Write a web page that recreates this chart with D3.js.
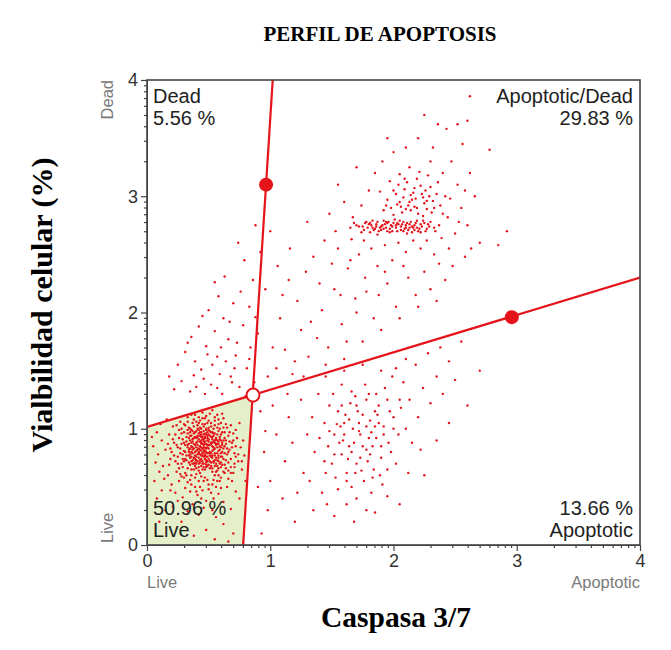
<!DOCTYPE html>
<html>
<head>
<meta charset="utf-8">
<script src="https://cdn.jsdelivr.net/npm/d3@7"></script>
<style>
  body { margin: 0; background: #fff; }
  svg { display: block; }
</style>
</head>
<body>
<div id="chart"></div>
<script>
// Axis ticks
const majorTicks = [0, 1, 2, 3, 4];
const minorTicks = [0, 1, 2, 3].flatMap(d => [2, 3, 4, 5, 6, 7, 8, 9].map(k => d + Math.log10(k)));

// Gate geometry (data units)
const verticalGate = [[0.78, 0], [1.02, 4]];
const horizontalGate = [[0, 1.015], [4, 2.30]];
const liveRegion = [[0, 0], [0, 1.015], [0.86, 1.29], [0.78, 0]];
const handles = [[0.966, 3.10], [2.96, 1.96]];
const centerHandle = [0.86, 1.29];

// Quadrant labels
const quadrantLabels = [
  { lines: ['Dead', '5.56 %'], corner: 'tl' },
  { lines: ['Apoptotic/Dead', '29.83 %'], corner: 'tr' },
  { lines: ['50.96 %', 'Live'], corner: 'bl' },
  { lines: ['13.66 %', 'Apoptotic'], corner: 'br' }
];

// Events: live population
const livePoints = [
[0.41,0.93],[0.52,0.88],[0.37,0.79],[0.48,0.71],[0.55,0.96],[0.33,0.86],[0.46,1.02],[0.59,0.82],[0.29,0.91],[0.44,0.77],
[0.50,0.99],[0.39,0.68],[0.62,0.90],[0.35,0.97],[0.47,0.84],[0.56,0.75],[0.31,0.74],[0.43,1.07],[0.53,0.63],[0.40,0.88],
[0.65,0.78],[0.27,0.83],[0.49,0.92],[0.58,1.04],[0.36,0.72],[0.45,0.65],[0.61,0.69],[0.34,1.01],[0.51,0.80],[0.42,0.96],
[0.57,0.87],[0.30,0.97],[0.48,1.11],[0.38,0.83],[0.54,0.71],[0.44,0.90],[0.66,0.94],[0.25,0.76],[0.40,0.61],[0.52,1.05],
[0.47,0.78],[0.63,0.85],[0.32,0.89],[0.56,0.92],[0.43,0.73],[0.37,1.05],[0.60,0.76],[0.49,0.86],[0.28,0.70],[0.53,0.97],
[0.41,0.82],[0.46,0.95],[0.69,0.88],[0.35,0.78],[0.58,0.66],[0.44,1.00],[0.50,0.74],[0.39,0.93],[0.55,0.83],[0.33,0.66],
[0.47,0.89],[0.62,1.01],[0.42,0.70],[0.36,0.85],[0.57,0.79],[0.45,0.87],[0.52,0.93],[0.30,0.81],[0.40,0.98],[0.64,0.73],
[0.48,0.67],[0.54,0.89],[0.38,0.75],[0.43,0.94],[0.59,0.91],[0.26,0.92],[0.50,0.83],[0.45,1.09],[0.67,0.82],[0.34,0.71],
[0.41,0.86],[0.56,0.70],[0.49,0.97],[0.37,0.91],[0.61,0.80],[0.44,0.81],[0.53,0.77],[0.31,1.03],[0.47,0.74],[0.58,0.98],
[0.39,0.80],[0.46,0.91],[0.55,1.07],[0.42,0.64],[0.64,0.87],[0.35,0.94],[0.51,0.86],[0.28,0.87],[0.48,0.80],[0.57,0.84],
[0.43,0.85],[0.49,0.90],[0.40,0.76],[0.53,0.81],[0.46,0.98],[0.36,0.88],[0.58,0.89],[0.44,0.68],[0.51,0.94],[0.38,0.96],
[0.55,0.73],[0.42,0.91],[0.47,0.81],[0.34,0.82],[0.60,0.95],[0.49,0.72],[0.41,1.03],[0.57,0.68],[0.32,0.93],[0.45,0.79],
[0.52,0.87],[0.39,0.71],[0.61,0.86],[0.44,0.93],[0.36,0.76],[0.54,1.00],[0.48,0.95],[0.42,0.79],[0.58,0.77],[0.35,1.00],
[0.50,0.69],[0.46,0.86],[0.63,0.92],[0.40,0.84],[0.53,0.66],[0.29,0.78],[0.47,1.04],[0.56,0.86],[0.43,0.62],[0.37,0.82],
[0.51,0.77],[0.59,1.00],[0.45,0.72],[0.33,0.96],[0.49,0.84],[0.62,0.74],[0.41,0.89],[0.54,0.94],[0.38,0.65],[0.46,0.76],
[0.57,0.95],[0.31,0.86],[0.44,0.97],[0.52,0.71],[0.40,1.06],[0.65,0.83],[0.48,0.87],[0.35,0.69],[0.55,0.79],[0.42,0.99],
[0.60,0.71],[0.47,0.65],[0.37,0.89],[0.50,1.01],[0.43,0.82],[0.56,0.63],[0.34,0.77],[0.53,0.91],[0.45,0.93],[0.39,0.74],
[0.61,0.97],[0.48,0.76],[0.30,0.72],[0.57,0.90],[0.44,0.87],[0.51,0.66],[0.36,0.99],[0.46,0.70],[0.59,0.85],[0.41,0.78],
[0.54,0.84],[0.38,0.92],[0.49,0.79],[0.63,0.79],[0.43,1.01],[0.52,0.97],[0.35,0.83],[0.47,0.93],[0.58,0.72],[0.40,0.70],
[0.45,0.83],[0.55,0.88],[0.32,0.77],[0.50,0.89],[0.42,0.67],[0.60,0.90],[0.37,0.73],[0.48,1.00],[0.53,0.75],[0.46,0.80],
[0.44,0.84],[0.50,0.91],[0.38,0.87],[0.55,0.77],[0.42,0.75],[0.47,0.96],[0.36,0.80],[0.53,0.85],[0.40,0.92],[0.58,0.81],
[0.45,0.70],[0.49,1.05],[0.33,0.84],[0.61,0.88],[0.43,0.78],[0.52,0.68],[0.39,0.97],[0.56,0.91],[0.46,0.82],[0.34,0.92],
[0.48,0.73],[0.60,0.79],[0.41,1.00],[0.54,0.96],[0.37,0.70],[0.50,0.79],[0.44,0.95],[0.57,0.73],[0.31,0.80],[0.47,0.87],
[0.62,0.83],[0.40,0.66],[0.52,1.02],[0.35,0.90],[0.55,0.68],[0.43,0.89],[0.49,0.76],[0.38,1.02],[0.59,0.93],[0.46,0.67],
[0.32,0.73],[0.53,0.88],[0.42,0.83],[0.64,0.90],[0.48,0.99],[0.36,0.94],[0.51,0.72],[0.45,0.77],[0.57,1.01],[0.39,0.77],
[0.47,0.92],[0.60,0.67],[0.34,0.87],[0.50,0.95],[0.43,0.71],[0.55,0.90],[0.41,0.94],[0.58,0.75],[0.37,0.84],[0.52,0.79],
[0.45,1.04],[0.66,0.80],[0.40,0.81],[0.49,0.68],[0.33,0.99],[0.54,0.82],[0.46,0.89],[0.61,0.76],[0.38,0.70],[0.51,0.98],
[0.44,0.74],[0.56,0.87],[0.35,0.75],[0.48,0.83],[0.42,1.05],[0.59,0.70],[0.47,0.77],[0.30,0.88],[0.53,0.93],[0.40,0.73],
[0.63,0.97],[0.45,0.91],[0.36,0.65],[0.50,0.86],[0.57,0.64],[0.43,0.97],[0.39,0.86],[0.55,1.03],[0.48,0.69],[0.34,0.80],
[0.52,0.76],[0.46,0.84],[0.60,0.84],[0.41,0.72],[0.37,0.98],[0.54,0.72],[0.44,0.88],[0.49,0.94],[0.58,0.87],[0.42,0.80],
[0.27,0.79],[0.68,0.74],[0.24,0.86],[0.70,0.90],[0.29,0.67],[0.66,0.64],[0.23,0.95],[0.72,0.85],[0.31,0.62],[0.62,0.63],
[0.20,0.80],[0.74,0.78],[0.26,0.99],[0.67,0.97],[0.28,0.59],[0.58,0.60],[0.35,0.56],[0.49,0.56],[0.44,0.59],[0.54,0.56],
[0.38,1.08],[0.47,1.09],[0.55,1.10],[0.60,1.05],[0.30,1.04],[0.25,0.70],[0.18,0.69],[0.71,0.70],[0.17,0.87],[0.77,0.72],
[0.22,0.77],[0.26,0.66],[0.24,1.03],[0.21,0.91],[0.27,0.61],[0.23,0.72],[0.28,0.96],[0.25,0.84],[0.19,0.83],[0.29,0.74],
[0.66,0.71],[0.69,0.84],[0.64,0.66],[0.70,0.96],[0.67,0.89],[0.72,0.76],[0.65,1.01],[0.68,0.62],[0.63,0.69],[0.71,0.67],
[0.32,0.60],[0.39,0.58],[0.46,0.55],[0.53,0.52],[0.59,0.55],[0.36,0.52],[0.43,0.50],[0.50,0.48],[0.56,0.50],[0.40,0.46],
[0.33,1.06],[0.42,1.10],[0.50,1.07],[0.58,1.08],[0.64,1.04],[0.28,1.00],[0.36,1.12],[0.45,1.14],[0.53,1.16],[0.61,1.13],
[0.22,0.88],[0.71,0.79],[0.19,0.74],[0.73,0.92],[0.24,0.63],[0.68,0.67],[0.15,0.82],[0.76,0.84],[0.30,0.58],[0.60,0.58],
[0.42,0.55],[0.50,0.52],[0.36,0.60],[0.55,0.60],[0.47,0.58],[0.33,0.54],[0.63,0.62],[0.39,0.50],[0.45,0.47],[0.52,0.45],
[0.57,0.55],[0.41,0.43],[0.48,0.38],[0.35,0.46],[0.60,0.49],[0.26,0.55],[0.18,0.95],[0.21,1.02],[0.27,1.06],[0.33,1.10],
[0.39,1.12],[0.51,1.13],[0.57,1.12],[0.62,1.09],[0.68,1.03],[0.72,0.99],[0.74,0.72],[0.70,0.62],[0.66,0.57],[0.12,0.90],
[0.09,0.78],[0.13,0.68],[0.17,0.60],[0.20,0.52],[0.23,0.45],[0.29,0.41],[0.31,0.49],[0.44,0.40],[0.54,0.40],[0.58,0.44],
[0.65,0.50],[0.69,0.55],[0.77,0.65],[0.79,0.77],[0.78,0.90],[0.75,1.05],[0.08,0.97],[0.05,0.85],[0.11,1.04],[0.16,1.08],
[0.14,0.57],[0.10,0.63],[0.07,0.71],[0.19,0.47],[0.25,0.38],[0.37,0.35],[0.46,0.32],[0.53,0.30],[0.62,0.37],[0.72,0.46],
[0.06,0.55],[0.12,0.47],[0.21,0.33],[0.33,0.29],[0.42,0.26],[0.56,0.24],[0.68,0.31],[0.75,0.40],[0.80,0.55],[0.04,0.93],
[0.15,0.30],[0.28,0.20],[0.48,0.13],[0.62,0.18],[0.70,0.10],[0.38,0.08],[0.55,0.05],[0.08,0.40],[0.10,0.20],[0.66,0.03]
];

// Events: dead quadrant
const deadPoints = [
[0.35,1.32],[0.52,1.38],[0.68,1.45],[0.44,1.51],[0.61,1.30],[0.28,1.41],[0.75,1.36],[0.57,1.62],[0.39,1.58],[0.81,1.52],
[0.48,1.71],[0.66,1.77],[0.31,1.66],[0.72,1.63],[0.55,1.84],[0.84,1.70],[0.42,1.88],[0.62,1.95],[0.78,1.89],[0.36,1.79],
[0.50,2.02],[0.70,2.08],[0.88,1.96],[0.25,1.55],[0.59,1.47],[0.46,1.43],[0.80,1.28],[0.64,1.58],[0.38,1.46],[0.73,1.74],
[0.53,1.55],[0.87,1.40],[0.67,1.92],[0.45,1.97],[0.58,2.14],[0.76,2.18],[0.83,2.05],[0.22,1.34],[0.33,1.74],[0.49,1.64],
[0.90,1.82],[0.60,1.70],[0.71,1.52],[0.40,1.36],[0.86,2.28],[0.63,2.31],[0.79,2.45],[0.55,2.26],[0.92,2.52],[0.74,2.60],
[0.88,2.75],[0.69,1.40],[0.47,1.30],[0.57,1.35],[0.18,1.45],[0.83,1.60]
];

// Events: apoptotic/dead quadrant (dense band + cloud)
const lateBand = [
[1.72,2.74],[1.80,2.76],[1.85,2.72],[1.91,2.75],[1.96,2.78],[2.02,2.73],[2.07,2.76],[2.12,2.71],[2.18,2.77],[2.23,2.74],
[1.76,2.71],[1.83,2.79],[1.88,2.70],[1.94,2.73],[1.99,2.70],[2.05,2.79],[2.10,2.75],[2.15,2.69],[2.21,2.72],[2.28,2.76],
[1.68,2.77],[1.79,2.73],[1.86,2.76],[1.92,2.79],[1.98,2.75],[2.03,2.70],[2.09,2.72],[2.14,2.78],[2.19,2.73],[2.26,2.70],
[1.74,2.69],[1.82,2.75],[1.89,2.73],[1.95,2.70],[2.00,2.77],[2.06,2.74],[2.11,2.68],[2.17,2.75],[2.24,2.79],[2.33,2.73],
[1.65,2.73],[1.78,2.78],[1.87,2.67],[1.93,2.76],[2.01,2.80],[2.08,2.70],[2.13,2.76],[2.20,2.70],[2.30,2.78],[2.37,2.75],
[1.84,2.71],[1.97,2.72],[2.04,2.76],[2.16,2.73],[1.90,2.74],[2.22,2.76],[1.81,2.69],[2.27,2.72],[1.95,2.77],[2.10,2.73],
[1.70,2.75],[1.77,2.77],[1.83,2.73],[1.87,2.78],[1.90,2.71],[1.94,2.78],[1.99,2.74],[2.03,2.77],[2.06,2.71],[2.11,2.77],
[2.15,2.74],[2.19,2.79],[2.22,2.69],[2.25,2.77],[2.29,2.74],[2.34,2.70],[1.75,2.74],[1.86,2.74],[1.97,2.69],[2.08,2.78],
[2.17,2.71],[2.02,2.75],[1.92,2.72],[1.81,2.77],[2.13,2.73],
[1.98,2.90],[2.05,2.95],[2.12,2.92],[2.18,2.98],[2.25,2.94],[2.02,3.02],[2.09,3.06],[2.16,3.03],[2.22,3.09],[2.29,3.00],
[1.95,2.97],[2.07,2.86],[2.14,2.88],[2.20,2.85],[2.27,2.89],[2.32,2.96],[2.11,3.12],[2.04,3.10],[2.19,3.15],[2.26,3.05],
[2.35,3.02],[1.92,2.88],[2.00,2.84],[2.24,2.83],[2.15,2.97],[2.08,2.99],[2.31,2.86],[2.38,2.92],[1.89,3.04],[2.21,3.21],
[2.13,3.25],[2.28,3.18],[2.36,3.12],[2.42,3.00],[2.44,2.82],[2.40,3.20],[2.30,3.30],[2.05,3.19],[1.97,3.13],[2.17,2.91],
[2.06,2.91],[2.13,2.95],[2.19,2.90],[2.24,2.99],[2.10,2.89],[2.17,3.07],[2.03,2.93],[2.27,2.96],[2.23,3.02],[2.00,3.05],
[2.30,3.08],[2.14,3.01],[2.09,3.15],[1.94,2.92],[2.33,2.90]
];

const lateScatter = [
[1.05,1.52],[1.12,1.68],[1.18,1.47],[1.25,1.85],[1.08,1.95],[1.31,1.62],[1.22,2.10],[1.38,1.78],[1.15,2.28],[1.42,2.02],
[1.29,2.35],[1.47,1.70],[1.52,2.20],[1.35,2.48],[1.58,1.90],[1.44,2.62],[1.63,2.38],[1.55,2.55],[1.69,2.12],[1.48,2.85],
[1.72,2.50],[1.60,2.95],[1.77,2.30],[1.66,2.63],[1.82,2.55],[1.74,2.92],[1.87,2.40],[1.80,3.05],[1.93,2.58],[1.85,3.20],
[1.99,2.45],[2.04,2.60],[1.91,3.30],[2.10,2.52],[2.16,2.62],[2.00,3.38],[2.22,2.55],[2.27,2.62],[2.10,3.42],[2.33,2.50],
[2.39,2.64],[2.20,3.50],[2.45,2.55],[2.50,2.68],[2.32,3.42],[2.47,3.30],[2.52,3.10],[2.55,2.90],[2.60,2.75],[2.43,3.58],
[2.36,3.62],[2.56,3.45],[2.62,3.20],[2.66,3.00],[2.48,2.40],[2.58,2.48],[2.70,2.60],[2.85,2.58],[1.02,1.70],[1.10,2.15],
[1.20,1.58],[1.33,1.92],[1.40,2.25],[1.27,1.45],[1.50,2.42],[1.57,2.15],[1.62,1.75],[1.70,2.00],[1.78,2.18],[1.84,1.95],
[1.95,2.25],[2.02,2.05],[2.12,2.30],[2.18,2.15],[2.25,2.35],[2.30,2.20],[2.37,2.42],[2.42,2.28],[1.88,2.15],[1.65,2.45],
[1.45,1.55],[1.60,1.60],[1.75,1.75],[1.90,1.85],[2.05,1.95],[2.20,2.05],[2.35,2.10],[0.98,1.45],[1.06,2.40],[1.16,2.55],
[0.96,2.20],[1.00,2.70],[1.30,2.78],[1.55,3.10],[1.70,3.25],[1.95,3.50],[2.60,3.65],[2.25,3.70],[2.78,3.40],[2.92,2.70],
[1.53,2.70],[1.67,2.82],[1.76,2.62],[2.40,2.85],[2.46,2.98],[2.53,2.78],[2.58,3.05],[2.63,2.55],[1.93,2.35],[2.08,2.40],
[2.62,3.86],[2.52,3.62]
];

// Events: apoptotic quadrant
const apoptoticPoints = [
[1.52,0.95],[1.60,1.05],[1.68,0.88],[1.75,1.12],[1.82,0.97],[1.58,0.78],[1.70,0.70],[1.88,1.20],[1.65,1.22],[1.78,0.82],
[1.92,1.02],[1.55,1.15],[1.47,0.85],[1.84,0.65],[1.73,0.95],[1.62,0.62],[1.96,0.88],[1.80,1.30],[1.50,0.70],[1.90,0.75],
[1.67,1.00],[1.76,0.55],[2.00,1.10],[1.44,1.05],[1.86,0.92],[1.59,0.90],[1.71,1.15],[1.95,1.25],[1.53,0.58],[2.04,0.95],
[1.63,0.74],[1.81,1.07],[1.40,0.92],[1.69,1.28],[1.89,0.60],[1.57,1.02],[1.79,0.72],[2.06,1.18],[1.48,1.20],[1.74,0.64],
[1.98,0.80],[1.61,1.12],[1.85,1.02],[1.66,0.50],[1.93,1.35],[1.36,0.80],[1.72,1.05],[2.10,1.00],[1.55,0.48],[1.83,0.85],
[1.45,0.62],[1.77,1.38],[2.02,0.70],[1.64,0.85],[1.87,1.12],[1.51,1.30],[2.13,1.25],[1.91,0.52],[1.34,1.10],[1.70,0.40],
[1.99,1.45],[1.58,1.38],[2.15,0.88],[1.42,0.45],[1.82,0.45],[2.08,1.40],[1.30,0.95],[1.62,0.35],[2.20,1.10],[1.95,0.42],
[1.27,0.62],[1.39,1.30],[2.24,1.35],[2.18,1.55],[2.30,1.22],[2.35,1.45],[2.28,1.65],[2.40,1.30],[2.45,1.58],[2.38,1.70],
[2.50,1.42],[2.55,1.75],[2.10,1.60],[2.02,1.52],[1.90,1.50],[1.75,1.55],[1.60,1.50],[1.45,1.45],[1.25,1.25],[1.15,1.10],
[1.05,0.95],[0.95,0.80],[1.00,0.55],[1.10,0.40],[0.92,1.15],[0.98,0.30],[1.20,0.20],[1.35,0.30],[1.52,0.25],[1.68,0.20],
[1.85,0.28],[2.05,0.35],[2.25,0.60],[2.35,0.90],[2.45,1.05],[2.60,1.20],[2.70,1.50],[0.90,0.50],[0.93,0.10],[1.12,0.72],
[1.18,0.88],[1.22,0.45],[1.32,0.55],[1.14,1.30],[1.02,1.20],[0.96,0.98],[2.12,0.62],[2.22,0.82],[1.46,0.35],[1.78,0.30],
[1.60,0.95],[1.72,0.98],[1.85,1.15],[1.66,0.80],[1.78,1.02],[1.56,0.88],[1.92,0.95],[1.70,1.20],[1.81,0.78],[1.64,1.08],
[1.75,0.85],[1.88,1.05],[1.54,1.04],[1.69,0.62],[1.97,1.15],[1.62,0.55],[1.83,0.58],[1.48,0.98],[1.78,1.25],[2.00,1.00],
[1.58,1.20],[1.73,0.75],[1.90,0.85],[1.66,1.32],[1.86,1.30],[1.52,0.78],[2.05,1.25],[1.44,0.72],[1.95,0.65],[1.80,0.92]
];

const allPoints = [...livePoints, ...deadPoints, ...lateBand, ...lateScatter, ...apoptoticPoints];

const W = 671, H = 650;
const plot = { left: 147, right: 640, top: 80, bottom: 545 };
const red = '#e5131a';

const svg = d3.select('#chart').append('svg')
  .attr('width', W)
  .attr('height', H);

const x = d3.scaleLinear().domain([0, 4]).range([plot.left, plot.right]);
const y = d3.scaleLinear().domain([0, 4]).range([plot.bottom, plot.top]);

svg.append('clipPath').attr('id', 'clip')
  .append('rect')
  .attr('x', plot.left).attr('y', plot.top)
  .attr('width', plot.right - plot.left).attr('height', plot.bottom - plot.top);

const inner = svg.append('g').attr('clip-path', 'url(#clip)');

// Live gate fill
inner.append('path')
  .datum(liveRegion)
  .attr('d', d3.line().x(d => x(d[0])).y(d => y(d[1])).curve(d3.curveLinearClosed))
  .attr('fill', '#e5efc9');

// Events
inner.append('g').selectAll('circle')
  .data(allPoints)
  .enter()
  .append('circle')
  .attr('cx', d => x(d[0]))
  .attr('cy', d => y(d[1]))
  .attr('r', 1.2)
  .attr('fill', red);

// Gate lines
const line = d3.line().x(d => x(d[0])).y(d => y(d[1]));
[verticalGate, horizontalGate].forEach(g => {
  inner.append('path')
    .datum(g)
    .attr('d', line)
    .attr('fill', 'none')
    .attr('stroke', red)
    .attr('stroke-width', 2.2);
});

inner.selectAll('.handle')
  .data(handles)
  .enter()
  .append('circle')
  .attr('class', 'handle')
  .attr('cx', d => x(d[0]))
  .attr('cy', d => y(d[1]))
  .attr('r', 7)
  .attr('fill', red);

inner.append('circle')
  .attr('cx', x(centerHandle[0]))
  .attr('cy', y(centerHandle[1]))
  .attr('r', 6.5)
  .attr('fill', '#fff')
  .attr('stroke', red)
  .attr('stroke-width', 2);

// Quadrant labels
const qFont = 'Liberation Sans, Arial, sans-serif';
quadrantLabels.forEach(q => {
  const right = q.corner[1] === 'r';
  const top = q.corner[0] === 't';
  const tx = right ? plot.right - 7 : plot.left + 6;
  const ty = top ? 103 : 515;
  const t = svg.append('text')
    .attr('text-anchor', right ? 'end' : 'start')
    .attr('font-family', qFont)
    .attr('font-size', 20)
    .attr('fill', '#222');
  q.lines.forEach((s, i) => {
    t.append('tspan').attr('x', tx).attr('y', ty + i * 22).text(s);
  });
});

// Axes
const xAxis = svg.append('g')
  .attr('transform', `translate(0,${plot.bottom})`)
  .call(d3.axisBottom(x).tickValues(majorTicks).tickSize(6).tickPadding(3).tickFormat(d3.format('d')));
svg.append('g')
  .attr('transform', `translate(0,${plot.bottom})`)
  .call(d3.axisBottom(x).tickValues(minorTicks).tickSize(3).tickFormat(''))
  .call(g => g.select('.domain').remove());

const yAxis = svg.append('g')
  .attr('transform', `translate(${plot.left},0)`)
  .call(d3.axisLeft(y).tickValues(majorTicks).tickSize(6).tickPadding(3).tickFormat(d3.format('d')));
svg.append('g')
  .attr('transform', `translate(${plot.left},0)`)
  .call(d3.axisLeft(y).tickValues(minorTicks).tickSize(3).tickFormat(''))
  .call(g => g.select('.domain').remove());

svg.selectAll('.tick line').attr('stroke', '#444').attr('stroke-width', 1.2);
[xAxis, yAxis].forEach(a => {
  a.selectAll('text').attr('font-family', qFont).attr('font-size', 18).attr('fill', '#333');
  a.select('.domain').attr('stroke', '#444');
});

// Frame
svg.append('rect')
  .attr('x', plot.left).attr('y', plot.top)
  .attr('width', plot.right - plot.left).attr('height', plot.bottom - plot.top)
  .attr('fill', 'none')
  .attr('stroke', '#444')
  .attr('stroke-width', 1.6);

// Side labels
const gray = '#7a7a7a';
svg.append('text')
  .attr('transform', `translate(113,80) rotate(-90)`)
  .attr('text-anchor', 'end')
  .attr('font-family', qFont).attr('font-size', 16.5).attr('fill', gray)
  .text('Dead');
svg.append('text')
  .attr('transform', `translate(113,543) rotate(-90)`)
  .attr('text-anchor', 'start')
  .attr('font-family', qFont).attr('font-size', 16.5).attr('fill', gray)
  .text('Live');
svg.append('text')
  .attr('x', plot.left).attr('y', 588)
  .attr('font-family', qFont).attr('font-size', 16.5).attr('fill', gray)
  .text('Live');
svg.append('text')
  .attr('x', plot.right).attr('y', 588)
  .attr('text-anchor', 'end')
  .attr('font-family', qFont).attr('font-size', 16.5).attr('fill', gray)
  .text('Apoptotic');

// Titles
const serif = 'Liberation Serif, Times New Roman, serif';
svg.append('text')
  .attr('x', 380).attr('y', 41)
  .attr('text-anchor', 'middle')
  .attr('font-family', serif).attr('font-weight', 'bold').attr('font-size', 21)
  .text('PERFIL DE APOPTOSIS');

svg.append('text')
  .attr('x', 396).attr('y', 627)
  .attr('text-anchor', 'middle')
  .attr('font-family', serif).attr('font-weight', 'bold').attr('font-size', 29.5)
  .text('Caspasa 3/7');

svg.append('text')
  .attr('transform', `translate(52,305) rotate(-90)`)
  .attr('text-anchor', 'middle')
  .attr('font-family', serif).attr('font-weight', 'bold').attr('font-size', 30)
  .text('Vialbilidad celular (%)');
</script>
</body>
</html>
